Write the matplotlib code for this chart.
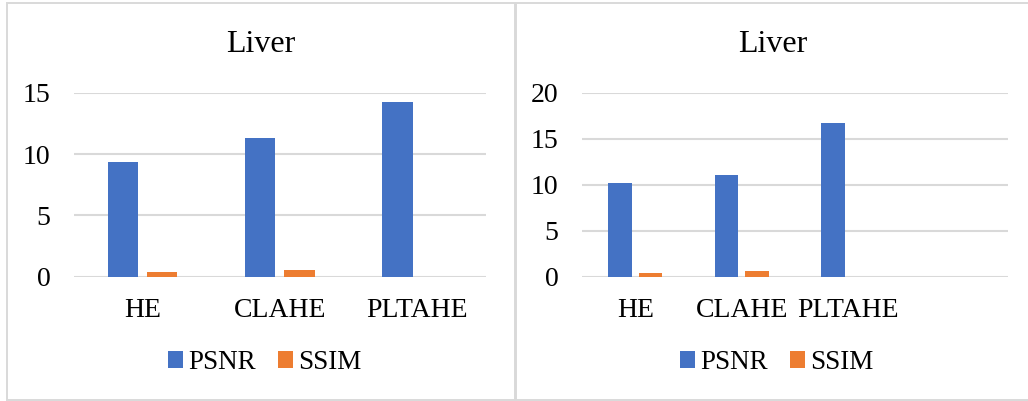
import matplotlib.pyplot as plt
from matplotlib.patches import Rectangle

plt.rcParams['font.family'] = ['Liberation Serif', 'DejaVu Serif']

# left chart
left_cats = ['HE', 'CLAHE', 'PLTAHE']
left_psnr = [9.33, 11.28, 14.24]
left_ssim = [0.41, 0.55, 0.0]

# right chart (fourth category left blank)
right_cats = ['HE', 'CLAHE', 'PLTAHE', '']
right_psnr = [10.15, 11.02, 16.67, 0.0]
right_ssim = [0.43, 0.58, 0.0, 0.0]

blue = '#4472C4'
orange = '#ED7D31'
grid_c = '#D9D9D9'

W, H = 1028, 401
fig = plt.figure(figsize=(W / 100, H / 100), dpi=100)


def px_axes(x0, x1, ytop, ybot):
    return fig.add_axes([x0 / W, 1 - ybot / H, (x1 - x0) / W, (ybot - ytop) / H])


def draw(ax, cats, psnr, ssim, ymax, box_x0, box_x1):
    x = list(range(len(cats)))
    bw, off = 0.222, 0.143
    b1 = ax.bar([i - off for i in x], psnr, width=bw, color=blue, label='PSNR', zorder=3)
    b2 = ax.bar([i + off for i in x], ssim, width=bw, color=orange, label='SSIM', zorder=3)
    ax.set_xlim(-0.5, len(cats) - 0.5)
    ax.set_ylim(0, ymax)
    ax.set_yticks(range(0, ymax + 1, 5))
    ax.set_xticks(x)
    ax.set_xticklabels(cats)
    ax.grid(axis='y', color=grid_c, linewidth=1.5, zorder=0)
    ax.set_axisbelow(True)
    for s in ax.spines.values():
        s.set_visible(False)
    ax.tick_params(axis='both', length=0, labelsize=20, colors='black')
    ax.tick_params(axis='y', pad=17)
    ax.tick_params(axis='x', pad=15)
    cx = (box_x0 + box_x1) / 2
    fig.text(cx / W, 1 - 44 / H, 'Liver', ha='center', va='center', fontsize=23)
    fig.legend([b1, b2], ['PSNR', 'SSIM'], loc='center',
               bbox_to_anchor=((cx + 4) / W, 1 - 362.5 / H), ncol=2, frameon=False,
               fontsize=19.5, handlelength=0.55, handleheight=0.55,
               handletextpad=0.2, columnspacing=0.8)
    fig.add_artist(Rectangle((box_x0 / W, 1 - 400 / H), (box_x1 - box_x0) / W, 397 / H,
                             transform=fig.transFigure, fill=False,
                             edgecolor=grid_c, linewidth=1.4))


ax1 = px_axes(74, 485.7, 92.7, 276.7)
draw(ax1, left_cats, left_psnr, left_ssim, 15, 7, 514.5)

ax2 = px_axes(582, 1007.7, 92.7, 276.7)
draw(ax2, right_cats, right_psnr, right_ssim, 20, 516, 1030)

fig.savefig('out.png', dpi=100)
plt.close(fig)
